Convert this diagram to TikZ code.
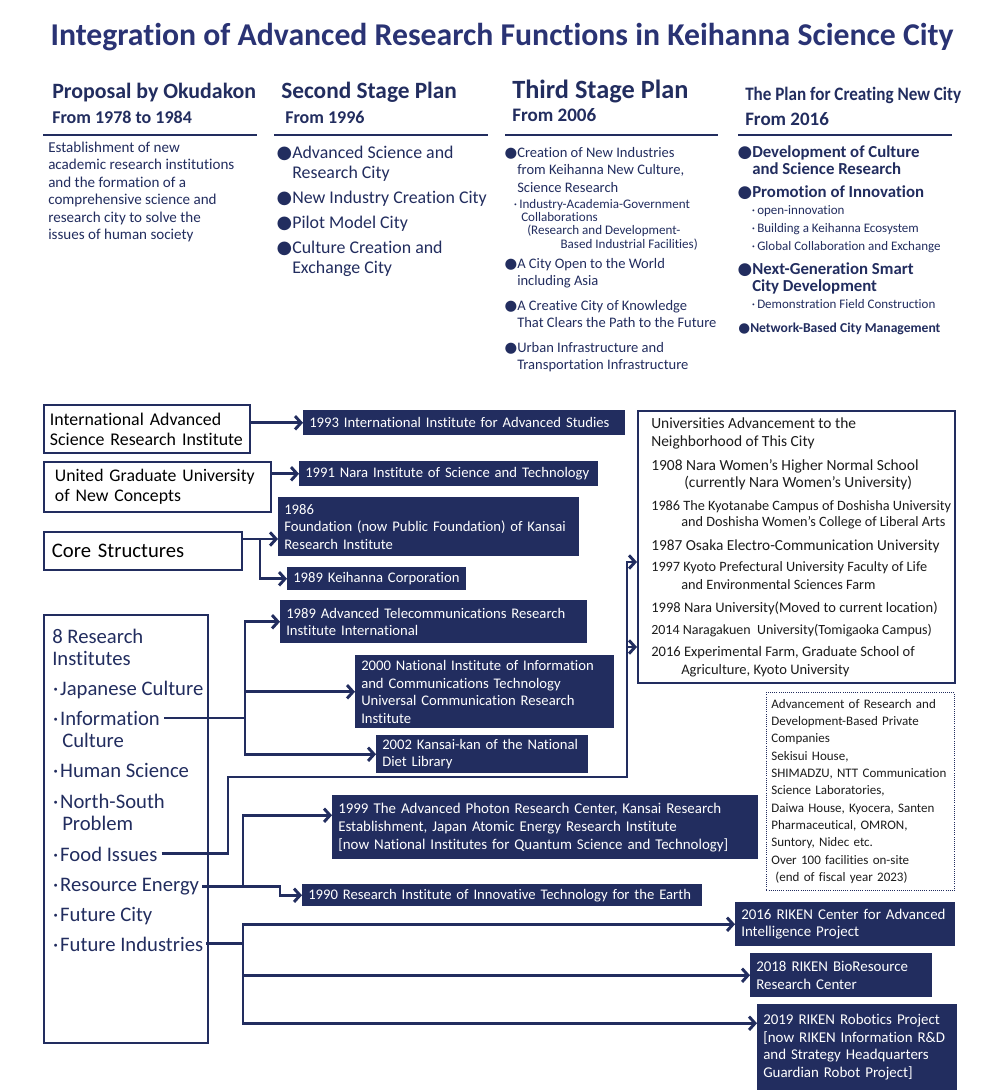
\documentclass[tikz,border=0pt]{standalone}
\usepackage{fontspec}
\setmainfont{Carlito}[Ligatures=NoCommon]
\newfontfamily\symfont{DejaVu Sans}
\usepackage{graphicx}
\usepackage{xcolor}
\usetikzlibrary{arrows.meta,positioning,calc}
\definecolor{navy}{HTML}{222D5F}
\definecolor{titleblue}{HTML}{2A3374}
\definecolor{inkdark}{HTML}{1C1C1C}
\newcommand{\fsz}[2]{\fontsize{#1}{#2}\selectfont}
\newcommand{\bul}{{\symfont ●}}
\newcommand{\dotm}{·\hspace{1.5pt}}
\hyphenpenalty=10000

\begin{document}
\begin{tikzpicture}[x=0.75pt,y=-0.75pt]
\tikzset{
  txt/.style={anchor=base west,inner sep=0pt,align=left,text=navy},
  utxt/.style={anchor=base west,inner sep=0pt,align=left,text=inkdark},
  wbox/.style={draw=navy,line width=1.4pt,fill=white,anchor=north west,align=left,inner ysep=0pt},
  nbox/.style={fill=navy,text=white,anchor=north west,inner xsep=4.5pt,inner ysep=0pt,align=left,font=\fsz{11}{13.1}},
  rule/.style={draw=navy,line width=2.2pt},
  link/.style={draw=navy,line width=2.2pt},
  arr/.style={link,-{Straight Barb[length=4.5pt,width=10pt]}}
}
\fill[white] (0,0) rectangle (1000,1090);
\useasboundingbox (0,0) rectangle (1000,1090);

% title and plan columns (multi-line texts sit on their last baseline)
\node[txt,anchor=base,text=titleblue,font=\fsz{23.8}{28}\bfseries] (title) at (502,45) {Integration of Advanced Research Functions in Keihanna Science City};

\node[txt,font=\fsz{16.4}{19}\bfseries] (h1) at (52,98) {Proposal by Okudakon};
\node[txt,font=\fsz{13.5}{16}\bfseries] (y1) at (52,123) {From 1978 to 1984};
\draw[rule] (43,135) -- (257,135);
\node[txt,font=\fsz{11.3}{13.1}] (c1) at (48,239.5) {Establishment of new\\academic research institutions\\and the formation of a\\comprehensive science and\\research city to solve the\\issues of human society};

\node[txt,font=\fsz{17.5}{20}\bfseries] (h2) at (281,98) {Second Stage Plan};
\node[txt,font=\fsz{13.5}{16}\bfseries] (y2) at (285,123) {From 1996};
\draw[rule] (274,135) -- (488,135);
\node[txt,font=\fsz{13.4}{15}] (s1) at (292,178) {\llap{\bul}Advanced Science and\\Research City};
\node[txt,font=\fsz{13.4}{15}] (s2) at (292,203) {\llap{\bul}New Industry Creation City};
\node[txt,font=\fsz{13.4}{15}] (s3) at (292,228) {\llap{\bul}Pilot Model City};
\node[txt,font=\fsz{13.4}{15}] (s4) at (292,273) {\llap{\bul}Culture Creation and\\Exchange City};

\node[txt,font=\fsz{19.75}{23}\bfseries] (h3) at (512,98) {Third Stage Plan};
\node[txt,font=\fsz{14.3}{17}\bfseries] (y3) at (512,121) {From 2006};
\draw[rule] (505,135) -- (718,135);
\node[txt,font=\fsz{10.9}{13.1}] (t1) at (517,192) {\llap{\bul}Creation of New Industries\\from Keihanna New Culture,\\Science Research};
\node[txt,font=\fsz{9.8}{10}] (t1a) at (519,248) {\llap{\dotm}Industry-Academia-Government\\\hspace*{1.5pt}Collaborations\\\hspace*{6pt}(Research and Development-\\\hspace*{31pt}Based Industrial Facilities)};
\node[txt,font=\fsz{10.9}{13.1}] (t2) at (517,285.5) {\llap{\bul}A City Open to the World\\including Asia};
\node[txt,font=\fsz{10.9}{13.1}] (t3) at (517,327.5) {\llap{\bul}A Creative City of Knowledge\\That Clears the Path to the Future};
\node[txt,font=\fsz{10.9}{13.1}] (t4) at (517,369.5) {\llap{\bul}Urban Infrastructure and\\Transportation Infrastructure};

\node[txt,font=\fsz{14.25}{17}\bfseries] (h4) at (745,100) {\scalebox{0.9}[1]{The Plan for Creating New City}};
\node[txt,font=\fsz{14.25}{17}\bfseries] (y4) at (745,125) {From 2016};
\draw[rule] (738,135) -- (952,135);
\node[txt,font=\fsz{12.6}{12.75}\bfseries] (u1) at (752,174) {\llap{\bul}Development of Culture\\and Science Research};
\node[txt,font=\fsz{12.6}{12.75}\bfseries] (u2) at (752,197) {\llap{\bul}Promotion of Innovation};
\node[txt,font=\fsz{9.75}{13.5}] (u2a) at (757,250) {\llap{\dotm}open-innovation\\\llap{\dotm}Building a Keihanna Ecosystem\\\llap{\dotm}Global Collaboration and Exchange};
\node[txt,font=\fsz{12.6}{12.75}\bfseries] (u3) at (752,291) {\llap{\bul}Next-Generation Smart\\City Development};
\node[txt,font=\fsz{9.75}{13.5}] (u3a) at (757,308) {\llap{\dotm}Demonstration Field Construction};
\node[txt,font=\fsz{10.2}{13}\bfseries] (u4) at (750,332) {\llap{\bul}Network-Based City Management};

% source boxes
\node[wbox,font=\fsz{13.4}{15},inner xsep=4.5pt,text width=145.5pt,minimum height=36pt] (iasri) at (43,404) {International Advanced\\Science Research Institute};
\node[wbox,font=\fsz{13.3}{15},inner xsep=8.25pt,text width=153.75pt,minimum height=37.5pt] (ugu) at (43,461) {United Graduate University\\of New Concepts};
\node[wbox,font=\fsz{15.5}{17},inner xsep=6pt,text width=136.5pt,minimum height=28.5pt] (core) at (43,531) {Core Structures};
\node[wbox,minimum width=123pt,minimum height=321pt] (inst8) at (43,614) {};
\node[txt,font=\fsz{15.5}{16.5}] (tHead) at (52,665) {8 Research\\Institutes};
\node[txt,font=\fsz{15.5}{16.5}] (tJap) at (60,695) {\llap{\dotm}Japanese Culture};
\node[txt,font=\fsz{15.5}{16.5}] (tInfo) at (60,725) {\llap{\dotm}Information};
\node[txt,font=\fsz{15.5}{16.5}] (tCult) at (62,747) {Culture};
\node[txt,font=\fsz{15.5}{16.5}] (tHum) at (60,777) {\llap{\dotm}Human Science};
\node[txt,font=\fsz{15.5}{16.5}] (tNS) at (60,830) {\llap{\dotm}North-South\\\hspace*{1.5pt}Problem};
\node[txt,font=\fsz{15.5}{16.5}] (tFood) at (60,861) {\llap{\dotm}Food Issues};
\node[txt,font=\fsz{15.5}{16.5}] (tRes) at (60,891) {\llap{\dotm}Resource Energy};
\node[txt,font=\fsz{15.5}{16.5}] (tCity) at (60,921) {\llap{\dotm}Future City};
\node[txt,font=\fsz{15.5}{16.5}] (tFut) at (60,951) {\llap{\dotm}Future Industries};

% institutes
\node[nbox,text width=232.5pt,minimum height=18.75pt] (b1993) at (303,410) {1993 International Institute for Advanced Studies};
\node[nbox,text width=215.25pt,minimum height=18.75pt] (b1991) at (299,461) {1991 Nara Institute of Science and Technology};
\node[nbox,text width=216.75pt,minimum height=44.25pt] (b1986) at (278,497) {1986\\Foundation (now Public Foundation) of Kansai\\Research Institute};
\node[nbox,text width=125.25pt,minimum height=17.25pt] (bkc) at (287,567) {1989 Keihanna Corporation};
\node[nbox,text width=221.25pt,minimum height=32.25pt] (batr) at (280,600) {1989 Advanced Telecommunications Research\\Institute International};
\node[nbox,text width=185.25pt,minimum height=54.75pt] (bnict) at (355,655) {2000 National Institute of Information\\and Communications Technology\\Universal Communication Research\\Institute};
\node[nbox,text width=150pt,minimum height=28.5pt] (bndl) at (376,735) {2002 Kansai-kan of the National\\Diet Library};
\node[nbox,font=\fsz{11.2}{13.4},text width=310.5pt,minimum height=48pt] (b1999) at (332,795) {1999 The Advanced Photon Research Center, Kansai Research\\Establishment, Japan Atomic Energy Research Institute\\{}[now National Institutes for Quantum Science and Technology]};
\node[nbox,text width=291pt,minimum height=16.5pt] (b1990) at (302,884) {1990 Research Institute of Innovative Technology for the Earth};
\node[nbox,font=\fsz{11.2}{13.1},text width=156pt,minimum height=33pt] (br2016) at (735,902) {2016 RIKEN Center for Advanced\\Intelligence Project};
\node[nbox,font=\fsz{11.2}{13.1},text width=127.5pt,minimum height=33pt] (br2018) at (750,953) {2018 RIKEN BioResource\\Research Center};
\node[nbox,font=\fsz{11.2}{13.1},text width=141pt,minimum height=64.5pt] (br2019) at (757,1004) {2019 RIKEN Robotics Project\\{}[now RIKEN Information R\&D\\and Strategy Headquarters\\Guardian Robot Project]};

% universities
\node[wbox,minimum width=237.75pt,minimum height=204pt] (univ) at (637,410) {};
\node[utxt,font=\fsz{11.6}{13.5}] (un0) at (651,446) {Universities Advancement to the\\Neighborhood of This City};
\node[utxt,font=\fsz{11.6}{12.75}] (un1) at (651,487) {1908 Nara Women's Higher Normal School\\\hspace*{24.75pt}(currently Nara Women's University)};
\node[utxt,font=\fsz{10.7}{12}] (un2) at (651,526) {1986 The Kyotanabe Campus of Doshisha University\\\hspace*{22.5pt}and Doshisha Women’s College of Liberal Arts};
\node[utxt,font=\fsz{11.5}{13.5}] (un3) at (651,550) {1987 Osaka Electro-Communication University};
\node[utxt,font=\fsz{10.7}{13.5}] (un4) at (651,589) {1997 Kyoto Prefectural University Faculty of Life\\\hspace*{22.5pt}and Environmental Sciences Farm};
\node[utxt,font=\fsz{10.9}{13.5}] (un5) at (651,612) {1998 Nara University(Moved to current location)};
\node[utxt,font=\fsz{10.5}{13.5}] (un6) at (651,634) {2014 Naragakuen\ \ University(Tomigaoka Campus)};
\node[utxt,font=\fsz{10.9}{13.5}] (un7) at (651,674) {2016 Experimental Farm, Graduate School of\\\hspace*{22.5pt}Agriculture, Kyoto University};

\node[draw=navy,densely dotted,line width=0.6pt,anchor=north west,inner xsep=3.75pt,text width=133.5pt,minimum height=148.5pt,align=left,text=inkdark,font=\fsz{9.75}{13}] (priv) at (766,692) {Advancement of Research and\\Development-Based Private\\Companies\\Sekisui House,\\SHIMADZU, NTT Communication\\Science Laboratories,\\Daiwa House, Kyocera, Santen\\Pharmaceutical, OMRON,\\Suntory, Nidec etc.\\Over 100 facilities on-site\\\hspace*{3pt}(end of fiscal year 2023)};

% connectors
\coordinate (cA) at (260,539);
\coordinate (iA) at (245,0);
\coordinate (fA) at (228,777);
\coordinate (fB) at (627,777);
\coordinate (j1997) at (0,562);
\coordinate (j2016) at (0,647);
\coordinate (rA) at (243,0);
\coordinate (rB) at (280,0);
\coordinate (uA) at (243,0);

\draw[arr] (b1993.west -| iasri.east) -- (b1993.west);
\draw[arr] (b1991.west -| ugu.east) -- (b1991.west);
\draw[link] (core.east |- cA) -- (cA);
\draw[arr] (cA) -- (cA -| b1986.west);
\draw[arr] (cA) |- (bkc.west);

\draw[link] ([xshift=3pt]tInfo.east) -- (tInfo.east -| iA);
\draw[arr] (tInfo.east -| iA) |- (batr.west);
\draw[arr] (tInfo.east -| iA) |- (bnict.west);
\draw[arr] (tInfo.east -| iA) |- (bndl.west);

\draw[arr] ([xshift=3pt]tFood.east) -| (fA) -- (fB) |- (univ.west |- j1997);
\draw[arr] (fB |- j2016) -- (univ.west |- j2016);

\draw[arr] ([xshift=2pt]tRes.east) -- (tRes.east -| rB) |- (b1990.west);
\draw[arr] (tRes.east -| rA) |- ([yshift=9pt]b1999.west);

\draw[link] ([xshift=2pt]tFut.east) -- (tFut.east -| uA);
\draw[arr] (tFut.east -| uA) |- (br2016.west);
\draw[arr] (tFut.east -| uA) |- (br2018.west);
\draw[arr] (tFut.east -| uA) |- ([yshift=18pt]br2019.west);
\end{tikzpicture}
\end{document}
